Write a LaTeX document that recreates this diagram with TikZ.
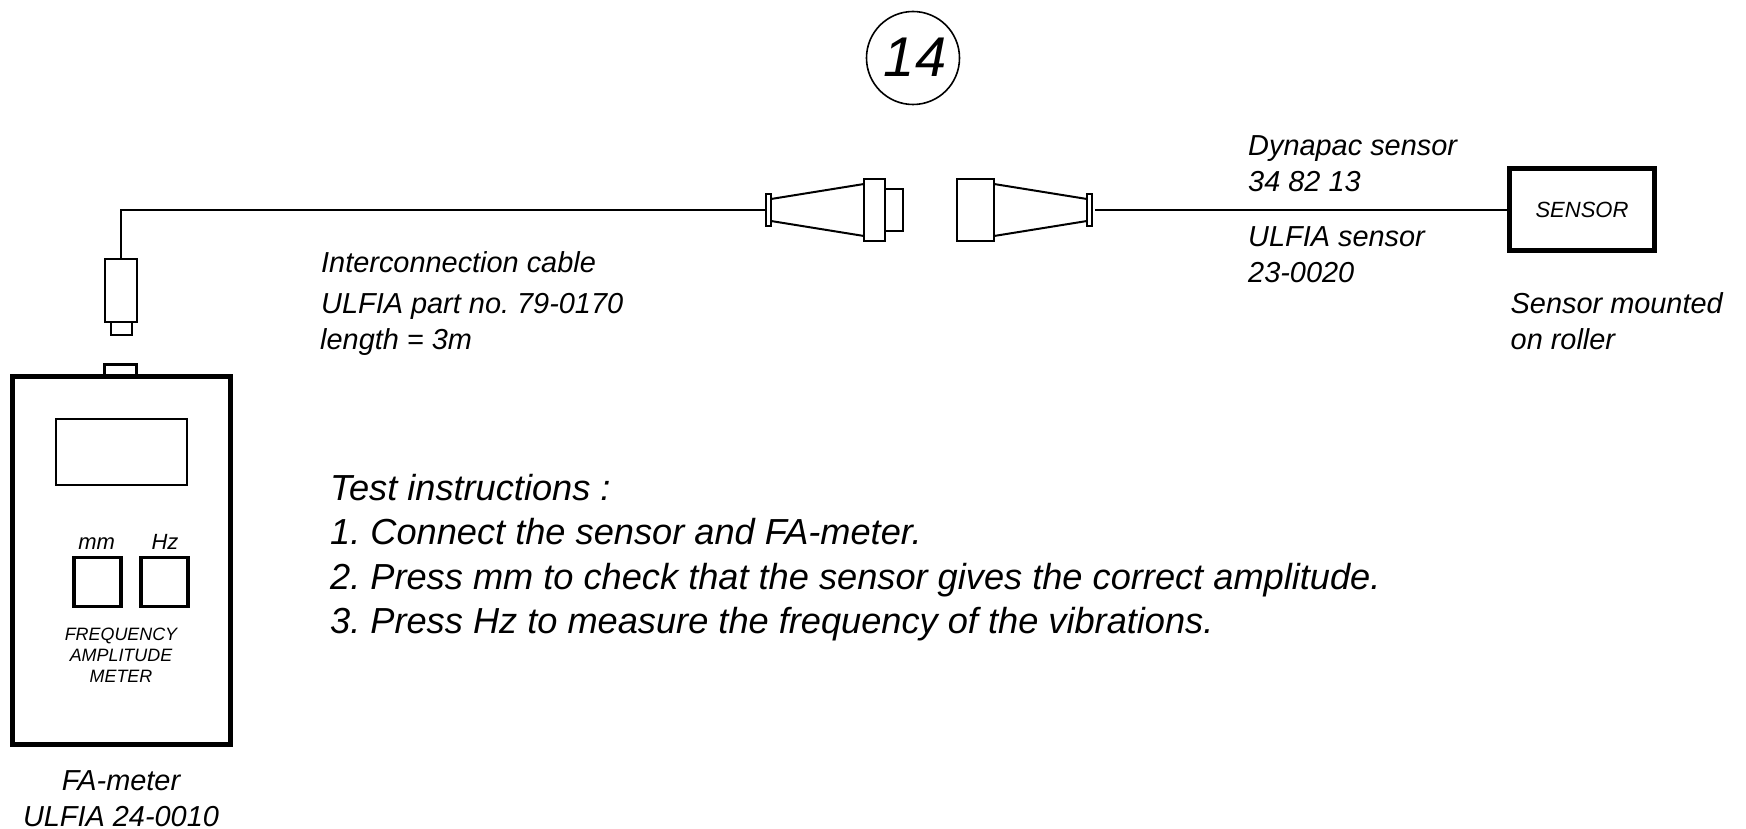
\documentclass[tikz,border=0pt]{standalone}
\usepackage{fontspec}
\setmainfont{Liberation Sans}
\usepackage{tikz}
\usetikzlibrary{positioning}

\newcommand{\fsize}[1]{\fontsize{#1}{#1}\itshape\selectfont\frenchspacing}

\begin{document}
\begin{tikzpicture}[
    x=1pt, y=-1pt,
    part/.style={rectangle, draw, line width=2pt, inner sep=0pt, outer sep=0pt, fill=white},
    thickpart/.style={part, line width=5pt},
    keybox/.style={part, line width=3.5pt, minimum width=47pt, minimum height=49pt},
    cable/.style={line width=2pt},
    label/.style={anchor=base west, inner sep=0pt, font=\fsize{28.9}},
    biglabel/.style={anchor=base west, inner sep=0pt, font=\fsize{36.2}},
    smalllabel/.style={anchor=base, inner sep=0pt, font=\fsize{17.9}}
]
\useasboundingbox (0,0) rectangle (1746,829);

% page number
\node[circle, draw, line width=1.6pt, minimum size=93pt, inner sep=0pt] (pagenum) at (913,58) {};
\node[inner sep=0pt, font=\fsize{56}] (pagetext) at (915,57) {14};

% FA-meter
\node[part, line width=3pt, minimum width=32pt, minimum height=12pt] (tab) at (120.5,370) {};
\node[thickpart, minimum width=218pt, minimum height=368pt] (meter) at (121,560) {};
\node[part, minimum width=131pt, minimum height=66pt] (display) at (121.5,452) {};
\node[keybox] (mmkey) at (97.3,582) {};
\node[keybox] (hzkey) at (164.7,582) {};

% plug at the meter end
\node[part, minimum width=32pt, minimum height=63pt] (plug) at (121,290.5) {};
\node[part, minimum width=21pt, minimum height=13pt] (plugtip) at (121,328.5) {};

% connector pair
\node[part, minimum width=5pt, minimum height=32pt] (flangeleft) at (768.5,210) {};
\node[part, minimum width=21pt, minimum height=62pt] (collar) at (874.5,210) {};
\node[part, minimum width=18pt, minimum height=42pt] (pin) at (894,210) {};
\node[part, minimum width=37pt, minimum height=62pt] (socket) at (975.5,210) {};
\node[part, minimum width=5pt, minimum height=32pt] (flangeright) at (1089.5,210) {};
\coordinate (cableend) at (1095,210);

\draw[cable] ([yshift=-5pt]flangeleft.north east) -- ([yshift=-5pt]collar.north west);
\draw[cable] ([yshift=5pt]flangeleft.south east) -- ([yshift=5pt]collar.south west);
\draw[cable] ([yshift=-5pt]socket.north east) -- ([yshift=-5pt]flangeright.north west);
\draw[cable] ([yshift=5pt]socket.south east) -- ([yshift=5pt]flangeright.south west);

% sensor
\node[thickpart, minimum width=145pt, minimum height=82pt, font=\fsize{22}] (sensor) at (1582,210) {SENSOR};

\draw[cable] (plug.north) |- (flangeleft.west);
\draw[cable] (cableend) -- (sensor.west);

% labels
\node[label] (cablename) at (321,272.5) {Interconnection cable};
\node[label] (cablepart) at (321,313.5) {ULFIA part no. 79-0170};
\node[label] (cablelen) at (320,349.5) {length = 3m};
\node[label] (dynaname) at (1248,156) {Dynapac sensor};
\node[label] (dynapart) at (1248,192) {34 82 13};
\node[label] (ulfianame) at (1248,247) {ULFIA sensor};
\node[label] (ulfiapart) at (1248,283) {23-0020};
\node[label] (mounted) at (1510.5,313.5) {Sensor mounted};
\node[label] (roller) at (1510.5,349.5) {on roller};
\node[label, anchor=base] (metername) at (121,790) {FA-meter};
\node[label, anchor=base] (meterpart) at (121,826) {ULFIA 24-0010};

% meter texts
\node[smalllabel, font=\fsize{22}] (mmtext) at (96.7,549.3) {mm};
\node[smalllabel, font=\fsize{22}] (hztext) at (165,549.3) {Hz};
\node[smalllabel] (freqtext) at (121,640.7) {FREQUENCY};
\node[smalllabel] (amptext) at (121,661.7) {AMPLITUDE};
\node[smalllabel] (metertext) at (121,682.3) {METER};

% instructions
\node[biglabel] (testhead) at (330,500) {Test instructions :};
\node[biglabel] (testone) at (330,544.5) {1. Connect the sensor and FA-meter.};
\node[biglabel] (testtwo) at (330,589) {2. Press mm to check that the sensor gives the correct amplitude.};
\node[biglabel] (testthree) at (330,633) {3. Press Hz to measure the frequency of the vibrations.};
\end{tikzpicture}
\end{document}
